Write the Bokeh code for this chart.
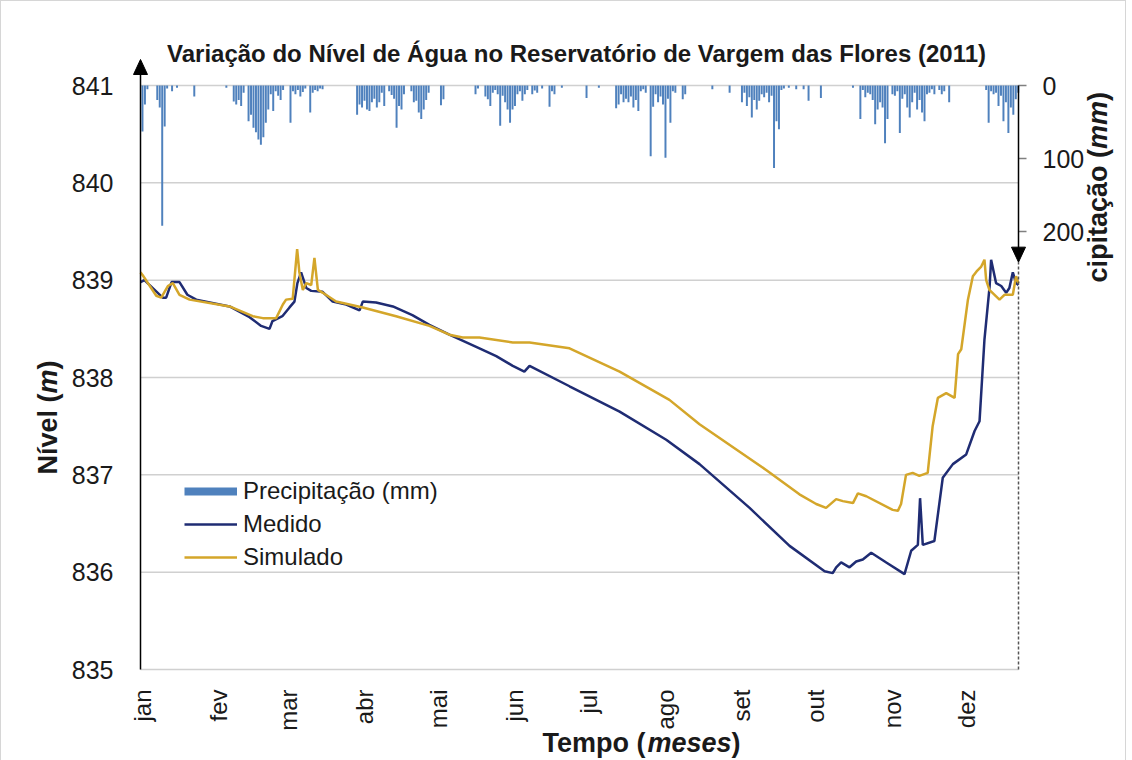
from math import pi
from bokeh.plotting import figure
from bokeh.models import (Range1d, LinearAxis, FixedTicker, Label, Arrow, PolyAnnotation,
                          Legend, LegendItem)
from bokeh.embed import file_html
from bokeh.resources import INLINE

# ---------------- data ----------------
months = ["jan", "fev", "mar", "abr", "mai", "jun", "jul", "ago", "set", "out", "nov", "dez"]
month_start_day = [0, 31, 59, 90, 120, 151, 181, 212, 243, 273, 304, 334]
level_ticks = [835, 836, 837, 838, 839, 840, 841]
precip_ticks = [0, 100, 200]

precip_day = [0, 1, 2, 6, 7, 8, 9, 10, 12, 14, 21, 34, 37, 38, 39, 40, 41, 43, 44, 45, 46, 47, 48, 49,
              50, 51, 52, 53, 54, 55, 56, 57, 60, 61, 62, 63, 64, 65, 66, 68, 69, 70, 71, 72, 73,
              87, 88, 89, 90, 91, 92, 93, 94, 95, 96, 97, 98, 100, 101, 102, 103, 104, 105, 106,
              109, 110, 111, 112, 113, 114, 115, 116, 121, 122, 135, 136, 139, 140, 141, 142, 143,
              144, 145, 146, 147, 148, 149, 150, 151, 152, 153, 154, 155, 156, 158, 159, 160, 162,
              165, 166, 167, 170, 180, 185, 192, 193, 194, 195, 196, 197, 198, 199, 200, 201, 202,
              203, 204, 206, 207, 208, 209, 210, 211, 212, 213, 214, 215, 216, 219, 220, 231, 238,
              243, 244, 245, 246, 247, 248, 249, 250, 251, 252, 253, 254, 255, 256, 257, 258, 259,
              260, 262, 265, 268, 270, 275, 288, 291, 292, 293, 294, 295, 296, 297, 298, 299, 300,
              301, 302, 304, 305, 306, 307, 308, 309, 310, 311, 312, 313, 314, 315, 316, 317, 318,
              319, 320, 321, 323, 324, 325, 327, 342, 343, 344, 345, 346, 347, 348, 349, 350, 351,
              352, 353, 354, 355]
precip_mm = [63, 26, 5, 20, 30, 192, 56, 4, 8, 3, 15, 3, 22, 26, 20, 28, 10, 49, 40, 58, 64, 74, 81, 71,
             51, 33, 12, 35, 8, 14, 20, 6, 51, 8, 12, 6, 15, 9, 4, 37, 10, 6, 8, 4, 5,
             40, 26, 30, 21, 33, 35, 23, 18, 30, 23, 10, 28, 8, 13, 18, 58, 28, 33, 12,
             8, 23, 21, 37, 46, 33, 20, 10, 27, 19, 12, 4, 15, 19, 28, 10, 6,
             12, 55, 14, 23, 33, 51, 33, 28, 12, 8, 21, 12, 6, 12, 7, 10, 4,
             29, 8, 12, 3, 17, 3, 31, 26, 12, 23, 18, 23, 15, 30, 20, 35, 8,
             5, 10, 97, 29, 12, 23, 15, 26, 99, 18, 51, 8, 10, 19, 12, 5, 10,
             23, 10, 28, 16, 44, 20, 33, 21, 12, 16, 10, 23, 14, 113, 49, 60, 6,
             4, 3, 5, 5, 21, 17, 3, 46, 6, 16, 10, 12, 20, 53, 33, 23, 30,
             79, 46, 12, 14, 8, 65, 18, 12, 30, 44, 23, 10, 33, 20, 37, 49, 12,
             10, 5, 12, 6, 12, 8, 23, 6, 51, 8, 12, 10, 28, 14, 49, 23, 65,
             30, 40, 19, 10]

med_day = [-0.8, 0.8, 8.2, 9.6, 11.8, 15.0, 18.2, 21.8, 35.3, 43.4, 48.1, 51.5, 52.7, 56.7, 59.6,
           61.6, 62.8, 64.3, 66.4, 68.4, 73.0, 77.1, 82.6, 88.0, 89.3, 94.7, 101.5, 109.4, 116.3,
           124.4, 136.6, 143.4, 150.1, 154.8, 156.9, 173.1, 193.4, 212.3, 225.8, 246.1, 262.3,
           276.5, 279.8, 281.2, 283.2, 286.6, 289.3, 292.0, 295.4, 301.5, 308.9, 311.6, 314.3,
           315.2, 316.3, 321.0, 324.4, 328.5, 333.9, 337.3, 339.3, 341.3, 343.4, 344.0, 346.0,
           348.1, 350.1, 351.4, 352.8, 354.1, 355.1]
med_level = [838.98, 839.00, 838.82, 838.82, 838.98, 838.98, 838.85, 838.80, 838.73, 838.62, 838.53,
             838.50, 838.58, 838.63, 838.72, 838.78, 838.97, 839.08, 838.92, 838.89, 838.88, 838.78,
             838.75, 838.69, 838.78, 838.77, 838.73, 838.64, 838.54, 838.44, 838.30, 838.22, 838.12,
             838.06, 838.12, 837.91, 837.65, 837.36, 837.11, 836.66, 836.27, 836.01, 835.99, 836.05,
             836.10, 836.05, 836.11, 836.13, 836.20, 836.10, 835.98, 836.22, 836.28, 836.76, 836.28,
             836.32, 836.97, 837.11, 837.21, 837.45, 837.55, 838.39, 838.94, 839.21, 838.97, 838.94,
             838.87, 838.92, 839.08, 838.97, 838.95]

sim_day = [-0.8, 0.1, 5.6, 7.6, 10.3, 12.3, 15.0, 19.1, 35.3, 44.7, 48.8, 54.2, 56.9, 58.2, 60.9,
           62.7, 63.6, 65.0, 66.4, 68.4, 69.7, 71.1, 73.1, 78.5, 89.3, 102.8, 116.3, 124.4, 129.8,
           136.6, 150.1, 156.9, 173.1, 193.4, 213.6, 225.8, 252.8, 266.3, 273.1, 277.1, 281.2,
           283.9, 288.0, 290.0, 293.4, 304.1, 306.2, 307.5, 309.5, 312.2, 314.9, 318.3, 320.3,
           322.4, 325.8, 329.2, 330.6, 331.9, 334.6, 336.6, 338.1, 340.0, 341.3, 342.0, 343.3,
           347.4, 349.4, 352.8, 354.1, 355.1]
sim_level = [839.08, 839.05, 838.84, 838.82, 838.94, 838.97, 838.85, 838.80, 838.73, 838.63, 838.61,
             838.61, 838.75, 838.80, 838.81, 839.32, 839.08, 838.90, 838.97, 838.95, 839.23, 838.90,
             838.87, 838.78, 838.72, 838.63, 838.53, 838.44, 838.41, 838.41, 838.36, 838.36, 838.30,
             838.06, 837.77, 837.52, 837.05, 836.80, 836.70, 836.66, 836.75, 836.73, 836.71, 836.81,
             836.78, 836.64, 836.63, 836.70, 837.00, 837.02, 836.99, 837.02, 837.50, 837.79, 837.84,
             837.79, 838.24, 838.29, 838.80, 839.04, 839.09, 839.14, 839.21, 839.00, 838.90, 838.80,
             838.85, 838.85, 839.04, 838.97]

# ---------------- layout ----------------
X0, X1 = -0.8, 355.1          # data area (day) shown between page x 141 and 1019
Y0, Y1 = 835, 841             # data area (m) shown between page y 670 and 86
MM_PER_M = 800 / 6            # precipitation scale (mm per m of level)
PXX = (X1 - X0) / 878
PXY = (Y1 - Y0) / 584
# frame is padded so that arrow heads, title and the right frame line stay inside it
XA, XB = X0 - 8 * PXX, X1 + 8 * PXX
YA, YB = Y0 - 4 * PXY, Y1 + 50 * PXY


def sx(px):
    return X0 + (px - 141) * PXX


def sy(py):
    return Y0 + (670 - py) * PXY


FONT = "Liberation Sans"
TXT = "#1a1a1a"

p = figure(frame_width=894, frame_height=638,
           min_border_left=131, min_border_right=99, min_border_top=34, min_border_bottom=60,
           x_range=Range1d(XA, XB), y_range=Range1d(YA, YB),
           output_backend="svg", toolbar_location=None,
           background_fill_color="white", border_fill_color="white",
           outline_line_color=None, styles={"border": "1px solid #d6d6d6"})
p.extra_y_ranges = {"precip": Range1d((Y1 - YA) * MM_PER_M, (Y1 - YB) * MM_PER_M)}

# x axis
xa = p.xaxis[0]
xa.ticker = FixedTicker(ticks=month_start_day)
xa.major_label_overrides = {d: m for d, m in zip(month_start_day, months)}
xa.major_label_orientation = pi / 2
xa.major_label_text_font = FONT
xa.major_label_text_font_size = "24px"
xa.major_label_text_color = TXT
xa.axis_line_color = None
xa.major_tick_line_color = None
xa.major_tick_out = 0
xa.major_tick_in = 0
xa.minor_tick_line_color = None
xa.major_label_standoff = 16

# left axis
ya = p.yaxis[0]
ya.ticker = FixedTicker(ticks=level_ticks)
ya.major_label_text_font = FONT
ya.major_label_text_font_size = "25px"
ya.major_label_text_color = TXT
ya.axis_line_color = None
ya.major_tick_line_color = None
ya.major_tick_out = 0
ya.major_tick_in = 0
ya.minor_tick_line_color = None
ya.major_label_standoff = 19

# right axis (precipitation, inverted)
ra = LinearAxis(y_range_name="precip", ticker=FixedTicker(ticks=precip_ticks),
                axis_line_color=None, major_tick_in=8, major_tick_out=0,
                major_tick_line_color="#808080", major_tick_line_width=1.5,
                minor_tick_line_color=None,
                major_label_standoff=16, major_label_text_font=FONT,
                major_label_text_font_size="25px", major_label_text_color=TXT)
p.add_layout(ra, "right")

p.xgrid.grid_line_color = None
p.ygrid.grid_line_color = None

# horizontal grid lines, only across the data area
p.segment(x0=X0, x1=X1, y0=level_ticks, y1=level_ticks, line_color="#d0d0d0", line_width=1.5)

# marks
p.vbar(x=precip_day, top=precip_mm, bottom=0, width=0.8, y_range_name="precip",
       fill_color="#4f81bd", line_color=None)
r_med = p.line(med_day, med_level, line_width=2.5, line_color="#1f2c73")
r_sim = p.line(sim_day, sim_level, line_width=2.5, line_color="#d4a62a")
nan = float("nan")
r_prx = p.line(x=[nan], y=[nan], line_width=8, line_color="#4f81bd")  # legend swatch only

# title (inside padded frame)
p.add_layout(Label(x=sx(577), y=sy(54),
                   text="Variação do Nível de Água no Reservatório de Vargem das Flores (2011)",
                   text_align="center", text_baseline="middle", text_font=FONT,
                   text_font_size="24px", text_font_style="bold", text_color=TXT))


# axis titles: labels living in a side panel, so they are not clipped to the frame
def side_lab(px, py, text, angle=0.0, style="bold"):
    p.add_layout(Label(x=sx(px), y=sy(py), text=text, angle=angle, text_align="left",
                       text_baseline="middle", text_font=FONT, text_font_size="27px",
                       text_font_style=style, text_color=TXT), "below")


side_lab(543, 743, "Tempo (")
side_lab(648, 743, "meses", style="bold italic")
side_lab(732, 743, ")")
side_lab(48, 475, "Nível (", angle=pi / 2)
side_lab(48, 394, "m", angle=pi / 2, style="bold italic")
side_lab(48, 370, ")", angle=pi / 2)
side_lab(1098, 283, "cipitação (", angle=pi / 2)
side_lab(1098, 149.5, "mm", angle=pi / 2, style="bold italic")
side_lab(1098, 101.5, ")", angle=pi / 2)

legend = Legend(items=[LegendItem(label="Precipitação (mm)", renderers=[r_prx]),
                       LegendItem(label="Medido", renderers=[r_med]),
                       LegendItem(label="Simulado", renderers=[r_sim])],
                location=(52, 102), glyph_width=53, glyph_height=28, label_height=28,
                label_standoff=6, spacing=5, padding=0, margin=0,
                border_line_color=None, background_fill_alpha=0,
                label_text_font=FONT, label_text_font_size="24px", label_text_color=TXT)
p.add_layout(legend)

# axis decorations: arrows and dashed right frame line
tip_left = sy(60)
tip_right = Y1 - 242 / MM_PER_M
hw, hh = 7 * PXX, 15 * PXY
p.add_layout(Arrow(end=None, x_start=X0, y_start=Y0, x_end=X0, y_end=tip_left - hh * 0.5,
                   line_width=1.5, line_color="black"))
p.add_layout(Arrow(end=None, x_start=X1, y_start=Y0, x_end=X1, y_end=tip_right,
                   line_width=1.5, line_color="#555555", line_dash="3 2"))
p.add_layout(Arrow(end=None, x_start=X1, y_start=Y1, x_end=X1, y_end=tip_right + hh * 0.5,
                   line_width=1.5, line_color="black"))
p.add_layout(PolyAnnotation(xs=[X0 - hw, X0 + hw, X0], ys=[tip_left - hh, tip_left - hh, tip_left],
                            fill_color="black", fill_alpha=1, line_color="black", line_alpha=1))
p.add_layout(PolyAnnotation(xs=[X1 - hw, X1 + hw, X1], ys=[tip_right + hh, tip_right + hh, tip_right],
                            fill_color="black", fill_alpha=1, line_color="black", line_alpha=1))

open("out.html", "w").write(file_html(p, INLINE))
